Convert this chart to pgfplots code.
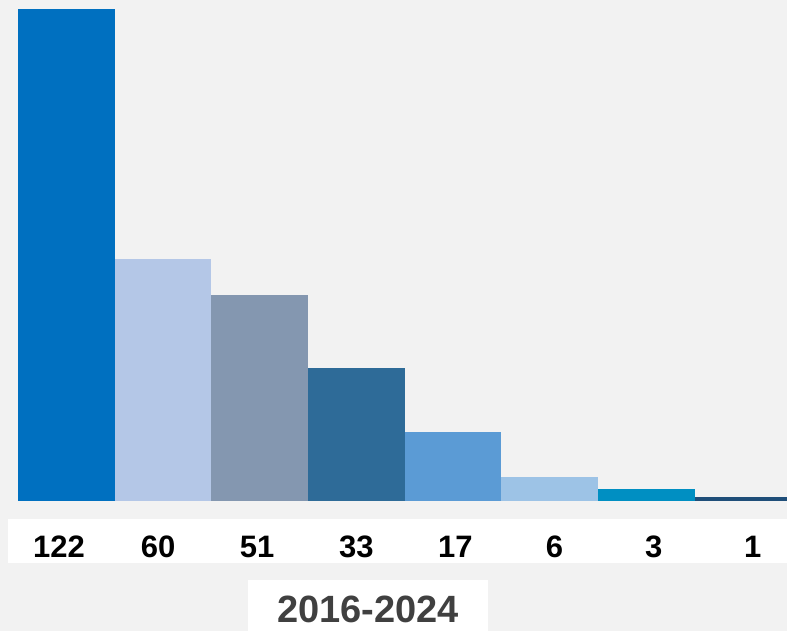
\documentclass[border=0pt]{standalone}
\usepackage{pgfplots}
\pgfplotsset{compat=1.18}
\usepackage{fontspec}
\setmainfont{Liberation Sans}
\definecolor{bgc}{HTML}{F2F2F2}
\definecolor{c1}{HTML}{0070C0}
\definecolor{c2}{HTML}{B4C7E7}
\definecolor{c3}{HTML}{8497B0}
\definecolor{c4}{HTML}{2E6B98}
\definecolor{c5}{HTML}{5B9BD5}
\definecolor{c6}{HTML}{9DC3E6}
\definecolor{c7}{HTML}{008FC2}
\definecolor{c8}{HTML}{1F4E79}
\definecolor{yeartext}{HTML}{404040}
\begin{document}
\begin{tikzpicture}[x=1pt,y=1pt]
% background, label strip and period box
\fill[bgc] (0,-631) rectangle (787,0);
\fill[white] (8,-519) rectangle (787,-563);
\fill[white] (248,-580) rectangle (488,-631);
\node[anchor=base, text=yeartext, font=\bfseries\fontsize{38}{38}\selectfont, inner sep=0pt]
  at (368,-622) {2016-2024};
\begin{axis}[
  at={(0pt,0pt)}, anchor=north west,
  scale only axis,
  width=787pt, height=501pt,
  xmin=-0.686, xmax=7.453,
  ymin=0, ymax=124.2,
  axis line style={draw=none},
  tick style={draw=none},
  ytick=\empty,
  xtick={-0.076,0.949,1.974,2.999,4.024,5.049,6.074,7.099},
  xticklabels={122,60,51,33,17,6,3,1},
  xticklabel style={anchor=base, yshift=-56pt, text=black,
    font=\bfseries\fontsize{31}{31}\selectfont},
]
\addplot[ybar, bar width=1, bar shift=0pt, fill=c1, draw=none] coordinates {(0,122)};
\addplot[ybar, bar width=1, bar shift=0pt, fill=c2, draw=none] coordinates {(1,60)};
\addplot[ybar, bar width=1, bar shift=0pt, fill=c3, draw=none] coordinates {(2,51)};
\addplot[ybar, bar width=1, bar shift=0pt, fill=c4, draw=none] coordinates {(3,33)};
\addplot[ybar, bar width=1, bar shift=0pt, fill=c5, draw=none] coordinates {(4,17)};
\addplot[ybar, bar width=1, bar shift=0pt, fill=c6, draw=none] coordinates {(5,6)};
\addplot[ybar, bar width=1, bar shift=0pt, fill=c7, draw=none] coordinates {(6,3)};
\addplot[ybar, bar width=1, bar shift=0pt, fill=c8, draw=none] coordinates {(7,1)};
\end{axis}
\pgfresetboundingbox
\path[use as bounding box] (0,-631) rectangle (787,0);
\end{tikzpicture}
\end{document}
